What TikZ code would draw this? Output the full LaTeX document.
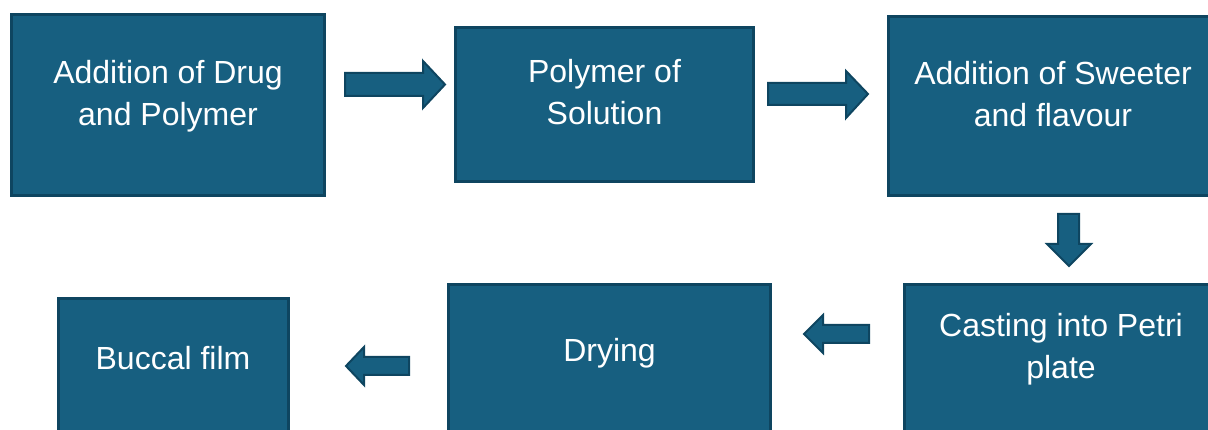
\documentclass[tikz,border=0pt]{standalone}
\usepackage{fontspec}
\setmainfont{Liberation Sans}
\definecolor{boxfill}{HTML}{175F80}
\definecolor{boxline}{HTML}{0E4560}
\begin{document}
\begin{tikzpicture}[x=1pt,y=-1pt,
  stepbox/.style={draw=boxline,fill=boxfill,line width=3pt,inner sep=0pt,outer sep=0pt,rectangle},
  lbl/.style={text=white,anchor=base,inner sep=0pt,font=\fontsize{32}{42}\selectfont},
  blockarrow/.style={draw=boxline,fill=boxfill,line width=2pt,line join=miter}]
\useasboundingbox (0,0) rectangle (1208,430);
\clip (0,0) rectangle (1208,430);
% boxes
\node[stepbox,minimum width=313pt,minimum height=181pt] (b1) at (168,105) {};
\node[stepbox,minimum width=298pt,minimum height=154pt] (b2) at (604.5,104.5) {};
\node[stepbox,minimum width=330pt,minimum height=179pt] (b3) at (1053.5,106) {};
\node[stepbox,minimum width=314pt,minimum height=164pt] (b4) at (1061.5,366.5) {};
\node[stepbox,minimum width=322pt,minimum height=164pt] (b5) at (609.5,366.5) {};
\node[stepbox,minimum width=230pt,minimum height=150pt] (b6) at (173.5,373.5) {};
% labels
\node[lbl] (t1a) at (168,83.5) {Addition of Drug};
\node[lbl] (t1b) at (168,125.5) {and Polymer};
\node[lbl] (t2a) at (604.5,82.5) {Polymer of};
\node[lbl] (t2b) at (604.5,124.5) {Solution};
\node[lbl] (t3a) at (1053,84.5) {Addition of Sweeter};
\node[lbl] (t3b) at (1053,126.5) {and flavour};
\node[lbl] (t4a) at (1061,336.5) {Casting into Petri};
\node[lbl] (t4b) at (1061,378.5) {plate};
\node[lbl] (t5a) at (609.5,361.5) {Drying};
\node[lbl] (t6a) at (173,369.5) {Buccal film};
% block arrows
\draw[blockarrow] (345,73) -- (423,73) -- (423,61) -- (445,84.5) -- (423,108) -- (423,96) -- (345,96) -- cycle;
\draw[blockarrow] (768,83) -- (846,83) -- (846,71) -- (868,94) -- (846,118) -- (846,105) -- (768,105) -- cycle;
\draw[blockarrow] (1058,214) -- (1079,214) -- (1079,244) -- (1091,244) -- (1069,266) -- (1047,244) -- (1058,244) -- cycle;
\draw[blockarrow] (869,325) -- (823,325) -- (823,315) -- (804,334) -- (823,353) -- (823,343) -- (869,343) -- cycle;
\draw[blockarrow] (409,357) -- (364,357) -- (364,347) -- (346,366) -- (364,385) -- (364,375) -- (409,375) -- cycle;
\end{tikzpicture}
\end{document}
